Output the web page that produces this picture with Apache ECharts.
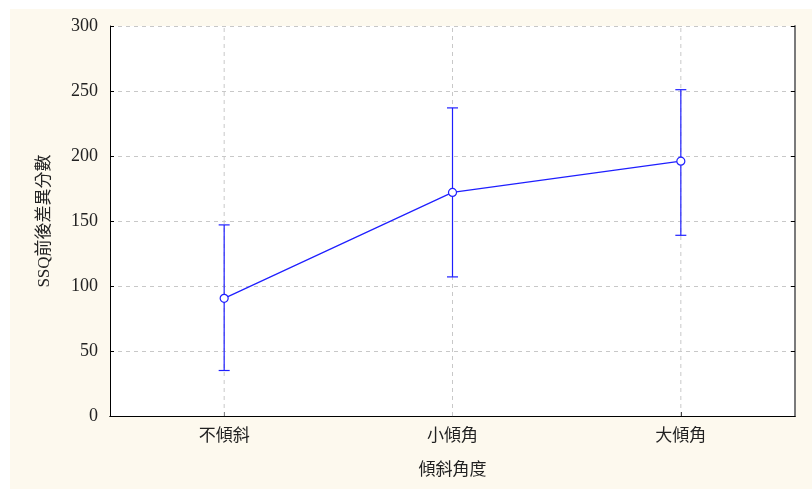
<!DOCTYPE html>
<html><head><meta charset="utf-8">
<script src="https://cdn.jsdelivr.net/npm/echarts@6/dist/echarts.min.js"></script>
<style>html,body{margin:0;padding:0;background:#fff;}#c{width:812px;height:489px;}</style>
</head><body><div id="c"></div>
<script>
const categories = ['不傾斜', '小傾角', '大傾角'];
const means = [90.5, 172, 196];
const upper = [147, 237, 251];
const lower = [35, 107, 139];
const yTicks = [0, 50, 100, 150, 200, 250, 300];

const FONT = '"Liberation Serif", "Noto Sans CJK TC", serif';
const BLUE = '#1f1fff';
const TXT = '#222';
const chart = echarts.init(document.getElementById('c'));
chart.setOption({
  animation: false,
  backgroundColor: '#ffffff',
  graphic: [{type: 'rect', z: -10, shape: {x: 10, y: 9, width: 802, height: 480}, style: {fill: '#fdf9ee'}},
            {type: 'rect', z: -9, shape: {x: 110, y: 26, width: 686, height: 390}, style: {fill: '#ffffff'}}],
  grid: {left: 110, top: 26, width: 685, height: 390, containLabel: false},
  xAxis: [{
    type: 'category', data: categories, position: 'bottom',
    name: '傾斜角度', nameLocation: 'middle', nameGap: 46,
    nameTextStyle: {fontFamily: FONT, fontSize: 17, color: TXT},
    axisLine: {lineStyle: {color: '#000', width: 1}},
    axisTick: {show: true, inside: true, alignWithLabel: true, length: 4, lineStyle: {color: '#000'}},
    axisLabel: {fontFamily: FONT, fontSize: 17, color: TXT, margin: 12},
    splitLine: {show: false}
  }, {
    type: 'category', data: categories, position: 'top',
    axisLine: {lineStyle: {color: '#000', width: 1}},
    axisTick: {show: false}, axisLabel: {show: false}, splitLine: {show: false}
  }],
  yAxis: [{
    type: 'value', min: 0, max: 300, interval: 50,
    name: 'SSQ前後差異分數', nameLocation: 'middle', nameGap: 57, nameRotate: 90,
    nameTextStyle: {fontFamily: FONT, fontSize: 17, color: TXT},
    axisLine: {show: true, lineStyle: {color: '#000', width: 1}},
    axisTick: {show: true, inside: true, length: 4, lineStyle: {color: '#000'}},
    axisLabel: {fontFamily: FONT, fontSize: 18, color: TXT, margin: 12,
      formatter: v => yTicks.includes(v) ? String(v) : ''},
    splitLine: {show: true, lineStyle: {color: '#c8c8c8', type: [4, 4]}}
  }, {
    type: 'value', min: 0, max: 300, interval: 50, position: 'right',
    axisLine: {show: true, lineStyle: {color: '#7a7a7a', width: 2}},
    axisTick: {show: true, inside: true, length: 4, lineStyle: {color: '#000'}},
    axisLabel: {show: false}, splitLine: {show: false}
  }],
  series: [{
    type: 'custom',
    z: 1, silent: true,
    data: categories.map((c, i) => [i, 0, 300]),
    renderItem: function (params, api) {
      const lo = api.coord([api.value(0), api.value(1)]);
      const hi = api.coord([api.value(0), api.value(2)]);
      return {type: 'line', shape: {x1: lo[0], y1: lo[1], x2: hi[0], y2: hi[1]},
        style: {stroke: '#c8c8c8', lineWidth: 1, lineDash: [4, 4]}};
    }
  }, {
    type: 'custom',
    z: 3,
    data: categories.map((c, i) => [i, lower[i], upper[i]]),
    renderItem: function (params, api) {
      const lo = api.coord([api.value(0), api.value(1)]);
      const hi = api.coord([api.value(0), api.value(2)]);
      const hw = 5.5;
      const st = {stroke: BLUE, lineWidth: 1.2};
      return {type: 'group', children: [
        {type: 'line', shape: {x1: hi[0], y1: hi[1], x2: lo[0], y2: lo[1]}, style: st},
        {type: 'line', shape: {x1: hi[0] - hw, y1: hi[1], x2: hi[0] + hw, y2: hi[1]}, style: st},
        {type: 'line', shape: {x1: lo[0] - hw, y1: lo[1], x2: lo[0] + hw, y2: lo[1]}, style: st}
      ]};
    }
  }, {
    type: 'line', z: 4,
    data: means,
    symbol: 'circle', symbolSize: 8,
    lineStyle: {color: BLUE, width: 1.2},
    itemStyle: {color: '#ffffff', borderColor: BLUE, borderWidth: 1.2}
  }]
});
</script></body></html>
